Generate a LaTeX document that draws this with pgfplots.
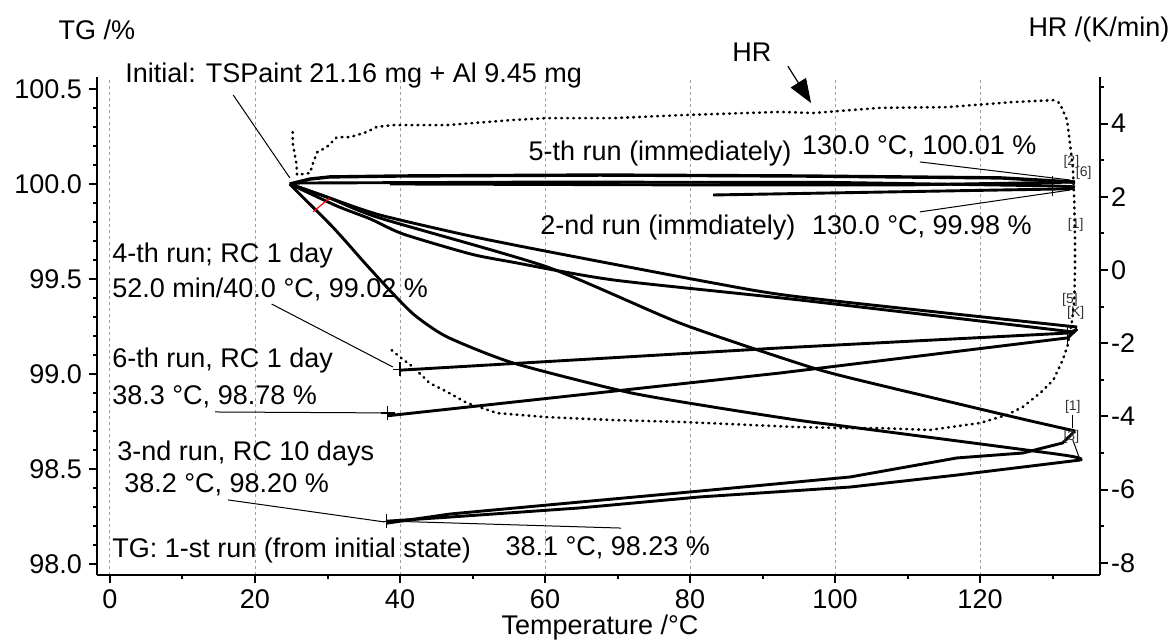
\documentclass[border=0pt]{standalone}
\usepackage{fontspec}
\setmainfont{Liberation Sans}
\usepackage{pgfplots}
\pgfplotsset{compat=1.18}
\usetikzlibrary{arrows.meta}
\begin{document}
\begin{tikzpicture}[font=\fontsize{13.5}{16}\selectfont]
\pgfplotsset{
  common/.style={scale only axis, width=501.5pt, height=249pt,
    xmin=-1.793, xmax=136.55,
    tick align=outside, major tick length=4pt, minor tick length=2pt,
    axis line style={line width=1.2pt, -},
    tick style={line width=1pt, black},
    tick label style={font=\fontsize{13.5}{16}\selectfont},
    clip=false},
  run/.style={black, line width=1.45pt},
  srun/.style={black, line width=1.45pt, smooth, tension=0.4},
}
\begin{axis}[common,
  ymin=97.942, ymax=100.563,
  axis x line*=bottom, axis y line*=left,
  xtick={0,20,40,60,80,100,120}, xticklabels={0,20,40,60,80,100,120},
  minor xtick={10,30,50,70,90,110,130},
  ytick={98,98.5,99,99.5,100,100.5}, yticklabels={98.0,98.5,99.0,99.5,100.0,100.5},
  minor ytick={98.1,98.2,98.3,98.4,98.6,98.7,98.8,98.9,99.1,99.2,99.3,99.4,99.6,99.7,99.8,99.9,100.1,100.2,100.3,100.4},
  xmajorgrids, grid style={gray!75, line width=0.5pt, dash pattern=on 1.5pt off 1.5pt},
]
\coordinate (BL) at (rel axis cs:-0.09671,-0.13454);
\coordinate (TR) at (rel axis cs:1.07178,1.15462);
% run with steepest loss: heating
\addplot[srun] coordinates {
(24.8,100.000) (26.6,99.930) (29.0,99.840) (30.8,99.770) (32.7,99.690) (35.0,99.590)
(38.6,99.440) (42.0,99.310) (46.5,99.195) (55.6,99.058) (71.3,98.905) (83.2,98.826) (95.2,98.755)
(102.1,98.721) (131.4,98.574) (133.8,98.547)};
% its cooling
\addplot[run] coordinates {
(133.8,98.547) (116.8,98.468) (102.1,98.405) (81.4,98.353) (64.8,98.295) (46.9,98.247) (38.1,98.225)};
% second strong-loss run: heating
\addplot[srun] coordinates {
(24.8,100.000) (30.3,99.926) (37.2,99.821) (60.3,99.563) (78.6,99.268) (95.2,99.053)
(102.1,98.979) (124.6,98.774) (133.1,98.700)};
% its cooling
\addplot[run] coordinates {
(133.1,98.700) (131.4,98.637) (125.9,98.584) (116.8,98.558) (102.1,98.458) (81.4,98.384) (64.8,98.326) (46.9,98.263) (38.2,98.215)};
% RC 1 day runs: heating
\addplot[srun] coordinates {
(24.8,100.000) (30.3,99.926) (37.2,99.837) (49.7,99.726) (60.3,99.645) (83.2,99.479) (95.2,99.405) (133.4,99.247)};
\addplot[srun] coordinates {
(24.8,100.000) (31.3,99.884) (35.9,99.816) (40.4,99.737) (49.7,99.632) (55.6,99.588) (69.4,99.495) (95.2,99.389) (133.1,99.220)};
% 4th run cooling
\addplot[run] coordinates {(133.4,99.237) (132.4,99.216) (92.4,99.137) (40.0,99.020)};
% 6th run cooling
\addplot[run] coordinates {(133.4,99.237) (132.1,99.190) (92.4,99.005) (38.3,98.780)};
% immediate runs (top group)
\addplot[black, line width=1.7pt] coordinates {
(24.8,100.000) (27.6,100.026) (30.3,100.037) (40.0,100.042) (67.6,100.047) (95.2,100.042) (122.8,100.032) (133.1,100.010)};
\addplot[run] coordinates {
(24.8,100.000) (26.2,100.005) (60.0,100.010) (100.0,100.008) (130.0,99.990) (133.1,99.985)};
\addplot[run] coordinates {
(133.1,100.010) (110.0,99.995) (80.0,99.995) (38.6,100.000)};
\addplot[run] coordinates {(133.0,99.975) (83.2,99.942)};
% end markers
\addplot[only marks, mark=+, mark size=3.5pt, black, line width=0.6pt] coordinates {
(38.3,98.795) (40.0,99.025) (38.1,98.225)};
\addplot[only marks, mark=|, mark size=5pt, black, line width=0.6pt] coordinates {
(130.0,99.99) (132.1,99.20)};
% leaders
\draw[line width=0.5pt] (17.0,100.468) -- (24.8,100.032);
\draw[line width=0.5pt] (22.3,99.368) -- (39.0,99.037);
\draw[line width=0.5pt] (14.5,98.800) -- (38.3,98.795);
\draw[line width=0.5pt] (16.3,98.337) -- (37.9,98.221);
\draw[line width=0.5pt] (38.2,98.226) -- (70.5,98.189);
\draw[line width=0.5pt] (111.7,100.116) -- (132.4,100.021);
\draw[line width=0.5pt] (111.7,99.853) -- (132.4,99.968);
\draw[line width=0.5pt] (132.8,98.784) -- (132.8,98.716);
\draw[line width=0.5pt] (132.8,98.653) -- (133.8,98.547);
\draw[red, line width=0.6pt] (28.0,99.853) -- (30.3,99.926);
\draw[line width=0.6pt, -{Triangle[length=12pt,width=9pt]}] (93.5,100.620) -- (96.7,100.426);
% texts
\node[anchor=base west, inner sep=0pt] at (2.07,100.532) {Initial: TSPaint 21.16 mg + Al 9.45 mg};
\node[anchor=base west, inner sep=0pt] at (85.8,100.642) {HR};
\node[anchor=base west, inner sep=0pt] at (57.7,100.126) {5-th run (immediately)};
\node[anchor=base west, inner sep=0pt] at (95.4,100.153) {130.0 °C, 100.01 \%};
\node[anchor=base west, inner sep=0pt] at (59.3,99.732) {2-nd run (immdiately)};
\node[anchor=base west, inner sep=0pt] at (96.8,99.732) {130.0 °C, 99.98 \%};
\node[anchor=base west, inner sep=0pt] at (0.28,99.589) {4-th run; RC 1 day};
\node[anchor=base west, inner sep=0pt] at (0.28,99.400) {52.0 min/40.0 °C, 99.02 \%};
\node[anchor=base west, inner sep=0pt] at (0.28,99.032) {6-th run, RC 1 day};
\node[anchor=base west, inner sep=0pt] at (0.28,98.837) {38.3 °C, 98.78 \%};
\node[anchor=base west, inner sep=0pt] at (0.97,98.547) {3-nd run, RC 10 days};
\node[anchor=base west, inner sep=0pt] at (1.93,98.374) {38.2 °C, 98.20 \%};
\node[anchor=base west, inner sep=0pt] at (0.28,98.032) {TG: 1-st run (from initial state)};
\node[anchor=base west, inner sep=0pt] at (54.5,98.042) {38.1 °C, 98.23 \%};
\begin{scope}[every node/.style={font=\fontsize{7}{8}\selectfont, text=black!80, inner sep=0pt}]
\node at (132.6,100.118) {[2]};
\node at (134.3,100.058) {[6]};
\node at (133.2,99.784) {[1]};
\node at (132.4,99.389) {[5]};
\node at (133.2,99.321) {[K]};
\node at (132.8,98.826) {[1]};
\node at (132.6,98.668) {[3]};
\end{scope}
\node at (rel axis cs:0,1.0944) {TG /\%};
\node at (rel axis cs:0.999,1.0944) {HR /(K/min)};
\node at (rel axis cs:0.5015,-0.1064) {Temperature /°C};
\end{axis}
\begin{axis}[common,
  ymin=-8.333, ymax=5.273,
  axis x line=none, axis y line*=right,
  ytick={-8,-6,-4,-2,0,2,4}, yticklabels={-8,-6,-4,-2,0,2,4},
  minor ytick={-7,-5,-3,-1,1,3,5},
  yticklabel style={xshift=-2pt},
]
\addplot[black, line width=1.3pt, line cap=round, dash pattern=on 0.4pt off 2.6pt] coordinates {
(25.2,3.77) (25.2,3.47) (25.7,2.92) (25.8,2.60) (27.6,2.65) (28.0,2.92) (28.6,3.22) (29.9,3.36)
(31.3,3.63) (33.1,3.63) (35.4,3.77) (36.8,3.91) (39.0,3.96) (46.5,3.96) (55.6,4.10) (60.3,4.15)
(69.4,4.15) (78.6,4.23) (87.9,4.29) (92.4,4.32) (97.0,4.29) (106.2,4.43) (115.4,4.45) (124.6,4.59)
(130.1,4.64) (131.0,4.56) (131.4,4.37) (132.0,4.10) (132.4,3.47) (132.8,2.81) (133.0,1.91)
(133.1,0.82) (133.1,0.0) (133.0,-0.82) (132.7,-1.37) (132.1,-2.05) (131.4,-2.46) (130.1,-3.01)
(128.3,-3.36) (125.9,-3.74) (123.7,-3.96) (120.0,-4.18) (113.1,-4.37) (106.2,-4.32) (101.7,-4.32)
(94.8,-4.29) (87.9,-4.23) (78.6,-4.15) (69.4,-4.10) (60.3,-4.02) (53.4,-3.91) (49.2,-3.63)
(46.5,-3.33) (44.1,-3.09) (41.8,-2.65) (40.0,-2.38) (38.3,-2.10)};
\end{axis}
\pgfresetboundingbox
\path[use as bounding box] (BL) rectangle (TR);
\end{tikzpicture}
\end{document}
